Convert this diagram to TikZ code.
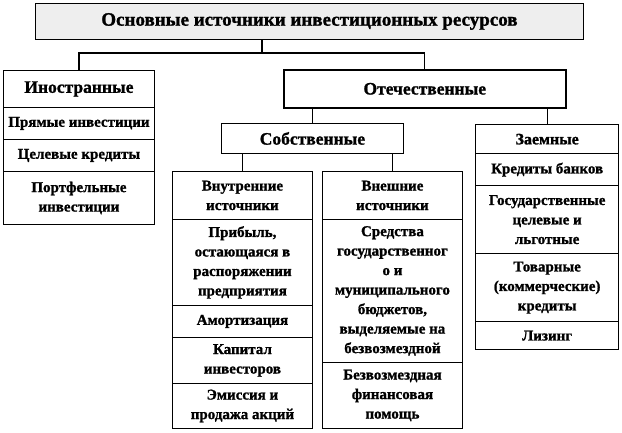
\documentclass[tikz,border=0pt]{standalone}
\usepackage{fontspec}
\setmainfont[BoldFeatures={FakeBold=1.2}]{Liberation Serif}
\begin{document}
\begin{tikzpicture}[x=1pt,y=-1pt,
  box/.style={draw=black, line width=0.9pt, anchor=north west, align=center, inner sep=0pt,
    font=\fontsize{15}{19.5}\selectfont\bfseries},
  headbox/.style={box, font=\fontsize{17.5}{21}\selectfont\bfseries},
  thickbox/.style={line width=1.6pt},
  conn/.style={draw=black, line width=1.2pt},
  thickconn/.style={draw=black, line width=1.8pt}]
\useasboundingbox (0,0) rectangle (622,433);
\definecolor{titlegray}{RGB}{238,238,238}
% title
\node[headbox, fill=titlegray, minimum width=548pt, minimum height=36pt, font=\fontsize{19}{21}\selectfont\bfseries] (title) at (35,3) {Основные источники инвестиционных ресурсов};
% foreign
\node[headbox, minimum width=151pt, minimum height=37pt] (ino) at (3,70) {Иностранные};
\node[box, minimum width=151pt, minimum height=32pt] (pryam) at (3,107) {Прямые инвестиции};
\node[box, minimum width=151pt, minimum height=32pt] (celev) at (3,139) {Целевые кредиты};
\node[box, minimum width=151pt, minimum height=53pt] (portf) at (3,171) {Портфельные\\инвестиции};
% domestic
\node[headbox, thickbox, minimum width=282pt, minimum height=38pt] (ote) at (283,69) {Отечественные};
\node[headbox, minimum width=182pt, minimum height=30pt] (sob) at (221,123) {Собственные};
% internal
\node[box, minimum width=140pt, minimum height=48pt] (vnutr) at (172,171) {Внутренние\\источники};
\node[box, minimum width=140pt, minimum height=86pt] (prib) at (172,219) {Прибыль,\\остающаяся в\\распоряжении\\предприятия};
\node[box, minimum width=140pt, minimum height=32pt] (amort) at (172,305) {Амортизация};
\node[box, minimum width=140pt, minimum height=46pt] (kap) at (172,337) {Капитал\\инвесторов};
\node[box, minimum width=140pt, minimum height=45pt] (emis) at (172,383) {Эмиссия и\\продажа акций};
% external
\node[box, minimum width=140pt, minimum height=48pt] (vnesh) at (322,171) {Внешние\\источники};
\node[box, minimum width=140pt, minimum height=143pt] (sredst) at (322,219) {Средства\\государственног\\о и\\муниципального\\бюджетов,\\выделяемые на\\безвозмездной};
\node[box, minimum width=140pt, minimum height=66pt] (bezv) at (322,362) {Безвозмездная\\финансовая\\помощь};
% borrowed
\node[box, line width=1.3pt, minimum width=143pt, minimum height=29pt, font=\fontsize{16}{19.5}\selectfont\bfseries] (zaem) at (475,124) {Заемные};
\node[box, line width=1.3pt, minimum width=143pt, minimum height=32pt] (kred) at (475,153) {Кредиты банков};
\node[box, line width=1.3pt, minimum width=143pt, minimum height=68pt] (gos) at (475,185) {Государственные\\целевые и\\льготные};
\node[box, line width=1.3pt, minimum width=143pt, minimum height=68pt] (tovar) at (475,253) {Товарные\\(коммерческие)\\кредиты};
\node[box, line width=1.3pt, minimum width=143pt, minimum height=28pt] (lizing) at (475,321) {Лизинг};
% connectors
\coordinate (j1) at (262,53);
\draw[conn] (title.south -| j1) -- (j1);
\draw[conn] (ino.north) -- (ino.north |- j1) -- (ote.north |- j1) -- (ote.north);
\draw[thickconn] (ote.south -| sob.north) -- (sob.north);
\draw[conn] (ote.south -| zaem.north) -- (zaem.north);
\draw[conn] (sob.south -| vnutr.north) -- (vnutr.north);
\draw[conn] (sob.south -| vnesh.north) -- (vnesh.north);
\end{tikzpicture}
\end{document}
